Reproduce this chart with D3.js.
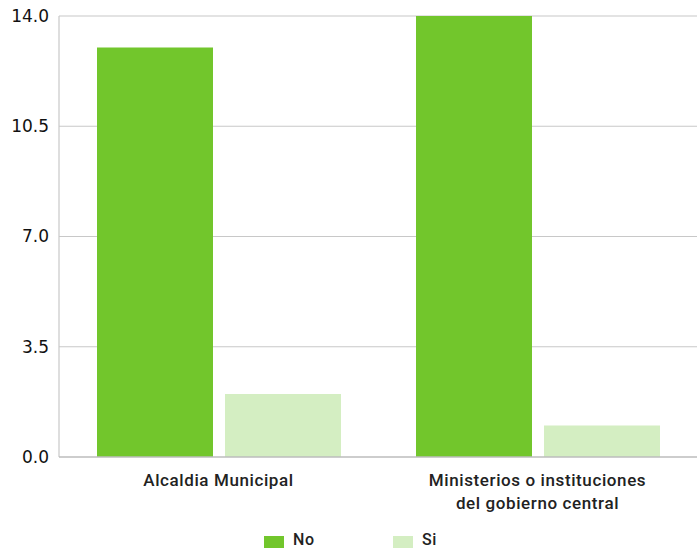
<!DOCTYPE html>
<html><head><meta charset="utf-8">
<script src="https://cdn.jsdelivr.net/npm/d3@7"></script>
<style>body{margin:0;background:#fff}svg{display:block}</style>
</head><body>
<svg id="c" width="697" height="549"></svg>
<script>
const categories = [["Alcaldia Municipal"], ["Ministerios o instituciones", "del gobierno central"]];
const categoryKeys = ["Alcaldia Municipal", "Ministerios o instituciones del gobierno central"];
const seriesNames = ["No", "Si"];
const noValues = [13, 14];
const siValues = [2, 1];
const yTicks = [0, 3.5, 7, 10.5, 14];
const colors = ["#72c62c", "#d4eec2"];

const svg = d3.select("#c");
const m = {l: 59, r: 0, t: 16, b: 92};
const W = 697, H = 549;
const x0 = d3.scaleBand().domain(categoryKeys).range([m.l, W - m.r]).paddingInner(0).paddingOuter(0);
const x1 = d3.scaleBand().domain(seriesNames).range([38, x0.bandwidth() - 37]).paddingInner(12/128);
const y = d3.scaleLinear().domain([0, 14]).range([H - m.b, m.t]);

// grid
svg.append("g").selectAll("line").data(yTicks.filter(d=>d>0)).join("line")
  .attr("x1", m.l).attr("x2", W).attr("y1", d=>y(d)).attr("y2", d=>y(d))
  .attr("stroke", "#c8c8c8").attr("stroke-width", 1.2);
svg.append("line").attr("x1", m.l).attr("x2", m.l).attr("y1", m.t).attr("y2", y(0))
  .attr("stroke", "#c8c8c8").attr("stroke-width", 1.2);

const data = categoryKeys.map((c,i)=>({c, vals:[noValues[i], siValues[i]]}));
const g = svg.append("g").selectAll("g").data(data).join("g")
  .attr("transform", d=>`translate(${x0(d.c)},0)`);
g.selectAll("rect").data(d=>d.vals.map((v,j)=>({s:seriesNames[j], v, j}))).join("rect")
  .attr("x", d=>x1(d.s)).attr("width", x1.bandwidth())
  .attr("y", d=>y(d.v)).attr("height", d=>y(0)-y(d.v))
  .attr("fill", d=>colors[d.j]);

svg.append("line").attr("x1", m.l).attr("x2", W).attr("y1", y(0)).attr("y2", y(0))
  .attr("stroke", "#bdbdbd").attr("stroke-width", 1.5);

// y axis labels
const yAxis = d3.axisLeft(y).tickValues(yTicks).tickFormat(d3.format(".1f")).tickSize(0).tickPadding(10);
const ya = svg.append("g").attr("transform", `translate(${m.l},0)`).call(yAxis);
ya.select(".domain").remove();
ya.selectAll("text").attr("font-family", "DejaVu Sans").attr("font-size", 17).attr("fill", "#111");

// x labels
categoryKeys.forEach((c,i)=>{
  const cx = x0(c) + x0.bandwidth()/2;
  const t = svg.append("text").attr("x", cx).attr("y", 486).attr("text-anchor","middle")
    .attr("font-family","Roboto").attr("font-weight", 500).attr("font-size", 17).attr("letter-spacing", 0.6).attr("fill","#222");
  categories[i].forEach((line,k)=>{
    t.append("tspan").attr("x", cx).attr("dy", k===0?0:23).text(line);
  });
});

// legend
const leg = [{n:"No", x:264},{n:"Si", x:393}];
leg.forEach((d,i)=>{
  svg.append("rect").attr("x", d.x).attr("y", 536).attr("width", 20).attr("height", 12).attr("fill", colors[i]);
  svg.append("text").attr("x", d.x+29).attr("y", 545).attr("font-family","Roboto").attr("font-weight",500)
    .attr("font-size", 16).attr("letter-spacing", 0.6).attr("fill","#222").text(d.n);
});
</script>
</body></html>
